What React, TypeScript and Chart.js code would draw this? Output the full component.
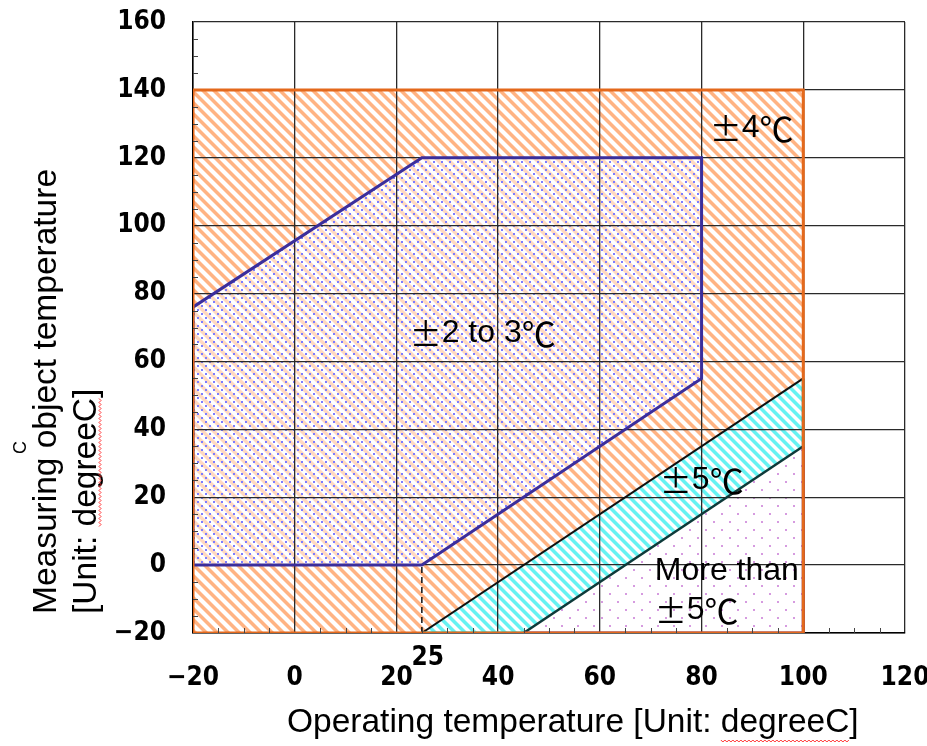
import React, { useEffect, useRef } from 'react';
import { Chart, registerables } from 'chart.js';
Chart.register(...registerables);

// ---- axes ----
const X_MIN = -20, X_MAX = 120, Y_MIN = -20, Y_MAX = 160, STEP = 20, MINOR = 5;

// ---- zones (x / y vertex lists, degreeC) ----
// ±4℃ zone (whole rated range)
const zone4X = [-20, -20, 100, 100];
const zone4Y = [-20, 140, 140, -20];
// ±2 to 3℃ zone
const zone23X = [-20, -20, 25, 80, 80, 25];
const zone23Y = [0, 76, 120, 120, 55, 0];
// ±5℃ band
const zone5X = [25, 100, 100, 45];
const zone5Y = [-20, 55, 35, -20];
// More than ±5℃
const zoneOverX = [45, 100, 100];
const zoneOverY = [-20, 35, -20];
// 25℃ marker
const markerX = [25, 25];
const markerY = [-20, 0];
const markerLabel = '25';

// ---- zone labels ----
const labelTexts = ['±4℃', '±2 to 3℃', '±5℃', 'More than', '±5℃'];
const labelX = [81.6, 22.6, 71.8, 70.8, 70.8];
const labelY = [128.8, 68.4, 25.1, -1.7, -13.2];

const xTitle = 'Operating temperature [Unit: degreeC]';
const yTitleLines = ['Measuring object temperature', '[Unit: degreeC]'];
const spellWord = 'degreeC';

const TICK_FONT = "'DejaVu Sans', sans-serif";
const TEXT_FONT = "'Liberation Sans', Arial, sans-serif";
const UNIT_FONT = "'Noto Sans CJK JP', sans-serif";
const WIDE_CHARS = '±℃';

const pts = (xs: number[], ys: number[]) => xs.map((x, i) => ({ x, y: ys[i] }));
const seg = (xs: number[], ys: number[], a: number, b: number) => [
  { x: xs[a], y: ys[a] },
  { x: xs[b], y: ys[b] },
];

function tile(size: number, paint: (g: CanvasRenderingContext2D, s: number) => void) {
  const c = document.createElement('canvas');
  c.width = size;
  c.height = size;
  const g = c.getContext('2d')!;
  paint(g, size);
  return c;
}

function stripes(period: number, width: number, fg: string, bg: string) {
  return tile(period, (g, P) => {
    g.fillStyle = bg;
    g.fillRect(0, 0, P, P);
    g.fillStyle = fg;
    for (let k = -2; k <= 1; k++) {
      g.beginPath();
      g.moveTo(k * P, 0);
      g.lineTo(k * P + width, 0);
      g.lineTo(k * P + width + P, P);
      g.lineTo(k * P + P, P);
      g.closePath();
      g.fill();
    }
  });
}

function dots(size: number, color: string, d: number, bg: string | null) {
  return tile(size, (g, S) => {
    if (bg) {
      g.fillStyle = bg;
      g.fillRect(0, 0, S, S);
    }
    g.fillStyle = color;
    g.fillRect(1, 1, d, d);
    g.fillRect(1 + S / 2, 1 + S / 2, d, d);
  });
}

const zonePlugin = {
  id: 'zones',
  beforeDraw(chart: any) {
    const ctx: CanvasRenderingContext2D = chart.ctx;
    const sx = chart.scales.x, sy = chart.scales.y;
    if (!chart.$pats) {
      chart.$pats = {
        orange: ctx.createPattern(stripes(11, 5, '#FFB383', '#FFFFFF'), 'repeat'),
        cyan: ctx.createPattern(stripes(10, 5, '#66F2F2', '#FFFFFF'), 'repeat'),
        blue: ctx.createPattern(dots(8, '#7C7CFF', 2, null), 'repeat'),
        pink: ctx.createPattern(dots(16, '#D69BE0', 2, '#FFFFFF'), 'repeat'),
      };
    }
    const P = chart.$pats;
    const poly = (xs: number[], ys: number[], style: any) => {
      ctx.beginPath();
      xs.forEach((v, i) => {
        const px = sx.getPixelForValue(v), py = sy.getPixelForValue(ys[i]);
        if (i) ctx.lineTo(px, py);
        else ctx.moveTo(px, py);
      });
      ctx.closePath();
      ctx.fillStyle = style;
      ctx.fill();
    };
    ctx.save();
    poly(zone4X, zone4Y, P.orange);
    poly(zone23X, zone23Y, 'rgba(255,255,255,0.5)');
    poly(zone23X, zone23Y, P.blue);
    poly(zone5X, zone5Y, P.cyan);
    poly(zoneOverX, zoneOverY, P.pink);
    ctx.restore();
  },
  afterDraw(chart: any) {
    const ctx: CanvasRenderingContext2D = chart.ctx;
    const sx = chart.scales.x, sy = chart.scales.y;
    const area = chart.chartArea;
    ctx.save();
    // minor ticks on the left and bottom edges
    ctx.strokeStyle = '#444';
    ctx.lineWidth = 1;
    ctx.beginPath();
    for (let v = Y_MIN + MINOR; v < Y_MAX; v += MINOR) {
      if ((v - Y_MIN) % STEP === 0) continue;
      const py = Math.round(sy.getPixelForValue(v)) + 0.5;
      ctx.moveTo(area.left, py);
      ctx.lineTo(area.left + 5, py);
    }
    for (let v = X_MIN + MINOR; v < X_MAX; v += MINOR) {
      if ((v - X_MIN) % STEP === 0) continue;
      const px = Math.round(sx.getPixelForValue(v)) + 0.5;
      ctx.moveTo(px, area.bottom);
      ctx.lineTo(px, area.bottom - 5);
    }
    ctx.stroke();

    // zone labels: Latin text in Liberation Sans, ± and ℃ as full-width glyphs
    ctx.fillStyle = '#000';
    ctx.textBaseline = 'middle';
    ctx.textAlign = 'left';
    labelTexts.forEach((t, i) => {
      let px = sx.getPixelForValue(labelX[i]);
      const py = sy.getPixelForValue(labelY[i]);
      const parts: string[] = [];
      for (const ch of t) {
        const wide = WIDE_CHARS.includes(ch);
        const last = parts.length ? parts[parts.length - 1] : null;
        if (last !== null && WIDE_CHARS.includes(last[0]) === wide && !wide) parts[parts.length - 1] += ch;
        else parts.push(ch);
      }
      parts.forEach((p) => {
        const wide = WIDE_CHARS.includes(p[0]);
        ctx.font = wide ? (p === '℃' ? `34px ${UNIT_FONT}` : `32px ${UNIT_FONT}`) : `32px ${TEXT_FONT}`;
        ctx.fillText(p, px, py + (wide ? 1 : 0));
        px += ctx.measureText(p).width;
      });
    });

    // 25 marker label
    ctx.font = `bold condensed 26px ${TICK_FONT}`;
    ctx.textAlign = 'center';
    ctx.fillText(markerLabel, sx.getPixelForValue(markerX[0]) + 6, area.bottom + 25);

    // x title
    ctx.font = `33.5px ${TEXT_FONT}`;
    ctx.textAlign = 'left';
    ctx.textBaseline = 'alphabetic';
    const xStart = 287, xBase = 732;
    ctx.fillText(xTitle, xStart, xBase);
    const pre = ctx.measureText(xTitle.slice(0, xTitle.indexOf(spellWord))).width;
    const wlen = ctx.measureText(spellWord).width;
    const squiggle = (x0: number, len: number) => {
      ctx.save();
      ctx.strokeStyle = '#FF3030';
      ctx.lineWidth = 1;
      ctx.beginPath();
      for (let i = 0; i <= len; i += 2) {
        const yy = (i / 2) % 2 === 0 ? 0 : 2;
        if (i === 0) ctx.moveTo(x0 + i, yy);
        else ctx.lineTo(x0 + i, yy);
      }
      ctx.stroke();
      ctx.restore();
    };
    ctx.save();
    ctx.translate(0, xBase + 8);
    squiggle(xStart + pre, wlen);
    ctx.restore();

    // y title (rotated)
    const yStart = 614;
    const baselines = [56, 96];
    yTitleLines.forEach((line, i) => {
      ctx.save();
      ctx.translate(baselines[i], yStart);
      ctx.rotate(-Math.PI / 2);
      ctx.fillText(line, 0, 0);
      if (line.includes(spellWord)) {
        const p = ctx.measureText(line.slice(0, line.indexOf(spellWord))).width;
        const w = ctx.measureText(spellWord).width;
        ctx.translate(0, 3);
        squiggle(p, w);
      }
      ctx.restore();
    });
    // stray glyph left of the y title
    ctx.save();
    ctx.font = `18px ${TEXT_FONT}`;
    ctx.translate(26, 454);
    ctx.rotate(-Math.PI / 2);
    ctx.fillText('C', 0, 0);
    ctx.restore();
    ctx.restore();
  },
};

const zeroPad = (s: any) => {
  s.paddingTop = 0;
  s.paddingBottom = 0;
  s.paddingLeft = 0;
  s.paddingRight = 0;
};

export default function App() {
  const ref = useRef<HTMLCanvasElement>(null);
  useEffect(() => {
    const canvas = ref.current!;
    const line = (data: any[], color: string, width: number, dash: number[] = []) => ({
      data,
      borderColor: color,
      borderWidth: width,
      borderDash: dash,
      showLine: true,
      pointRadius: 0,
      fill: false,
      tension: 0,
    });
    const tickFont = { family: TICK_FONT, size: 26, weight: 'bold condensed' };
    const chart = new Chart(canvas, {
      type: 'scatter',
      data: {
        datasets: [
          line([...pts(zone4X, zone4Y), { x: zone4X[0], y: zone4Y[0] }], '#E4691C', 3),
          line([...pts(zone23X, zone23Y), { x: zone23X[0], y: zone23Y[0] }], '#3B2E9C', 3),
          line(seg(zone5X, zone5Y, 1, 2), '#0B8C8C', 3),
          line(seg(zone5X, zone5Y, 3, 0), '#20C8C8', 3),
          line(seg(zoneOverX, zoneOverY, 1, 2), '#4E1B63', 3),
          line(seg(zoneOverX, zoneOverY, 2, 0), '#6A2A80', 3),
          line(seg(zone5X, zone5Y, 0, 1), '#111111', 2),
          line(seg(zone5X, zone5Y, 2, 3), '#0E3A3A', 2.5),
          line(pts(markerX, markerY), '#111111', 1.5, [6, 4]),
        ] as any,
      },
      options: {
        animation: false,
        responsive: false,
        devicePixelRatio: 1,
        layout: { padding: { left: 0, top: 22, right: 22, bottom: 0 } },
        plugins: { legend: { display: false }, tooltip: { enabled: false } },
        scales: {
          x: {
            type: 'linear',
            min: X_MIN,
            max: X_MAX,
            afterFit: (s: any) => { s.height = 113; zeroPad(s); },
            grid: { color: '#2a2a2a', lineWidth: 1.3, drawTicks: false },
            border: { color: '#000', width: 1.5 },
            ticks: {
              stepSize: STEP,
              padding: 30,
              maxRotation: 0,
              autoSkip: false,
              color: '#000',
              font: tickFont,
              callback: (v: any) => String(v).replace('-', '−'),
            },
          },
          y: {
            type: 'linear',
            min: Y_MIN,
            max: Y_MAX,
            afterFit: (s: any) => { s.width = 193; zeroPad(s); },
            grid: { color: '#2a2a2a', lineWidth: 1.3, drawTicks: false },
            border: { color: '#000', width: 1.5 },
            ticks: {
              stepSize: STEP,
              padding: 27,
              autoSkip: false,
              color: '#000',
              font: tickFont,
              callback: (v: any) => String(v).replace('-', '−'),
            },
          },
        },
      } as any,
      plugins: [zonePlugin],
    });
    return () => chart.destroy();
  }, []);
  return (
    <div style={{ position: 'fixed', left: 0, top: 0, width: 927, height: 746, background: '#fff' }}>
      <canvas ref={ref} width={927} height={746} style={{ width: 927, height: 746, display: 'block' }} />
    </div>
  );
}
